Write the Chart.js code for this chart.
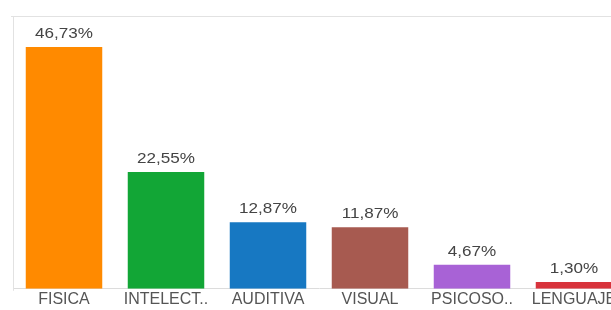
<!DOCTYPE html>
<html>
<head>
<meta charset="utf-8">
<script src="https://cdn.jsdelivr.net/npm/chart.js@4/dist/chart.umd.min.js"></script>
<style>
  html, body { margin: 0; padding: 0; background: #fff; overflow: hidden; }
  #wrap { width: 632px; height: 310px; }
</style>
</head>
<body>
<div id="wrap"><canvas id="chBar"></canvas></div>
<script>
var categories = ['FISICA', 'INTELECT..', 'AUDITIVA', 'VISUAL', 'PSICOSO..', 'LENGUAJE'];
var values = [46.73, 22.55, 12.87, 11.87, 4.67, 1.30];
var colors = ['#ff8a00', '#12a636', '#1778c2', '#a75a50', '#a862d6', '#d8333c'];

// value labels above each bar, comma decimals (text a bit wide, like the source)
var barLabels = {
  id: 'barLabels',
  afterDatasetsDraw: function (chart) {
    var ctx = chart.ctx;
    var meta = chart.getDatasetMeta(0);
    meta.data.forEach(function (bar, i) {
      ctx.save();
      ctx.translate(bar.x, bar.y - 9);
      ctx.scale(1.22, 1);
      ctx.font = '14px "Liberation Sans", Arial, sans-serif';
      ctx.fillStyle = '#444';
      ctx.textAlign = 'center';
      ctx.textBaseline = 'alphabetic';
      ctx.fillText(values[i].toFixed(2).replace('.', ',') + '%', 0, 0);
      ctx.restore();
    });
  }
};

// light frame lines: top and left
var frame = {
  id: 'frame',
  beforeDatasetsDraw: function (chart) {
    var a = chart.chartArea;
    var ctx = chart.ctx;
    ctx.save();
    ctx.strokeStyle = '#e2e2e2';
    ctx.lineWidth = 1;
    ctx.beginPath();
    ctx.moveTo(a.left - 2, a.top + 0.5);
    ctx.lineTo(a.right, a.top + 0.5);
    ctx.moveTo(a.left + 0.5, a.top);
    ctx.lineTo(a.left + 0.5, a.bottom + 2);
    ctx.stroke();
    ctx.restore();
  }
};

new Chart(document.getElementById('chBar'), {
  type: 'bar',
  data: {
    labels: categories,
    datasets: [{
      data: values,
      backgroundColor: colors,
      borderWidth: 0,
      categoryPercentage: 1,
      barPercentage: 0.75
    }]
  },
  options: {
    responsive: true,
    maintainAspectRatio: false,
    animation: false,
    layout: { padding: { left: 13, top: 16, right: 7, bottom: 0 } },
    plugins: {
      legend: { display: false },
      tooltip: { enabled: false }
    },
    scales: {
      y: { display: false, min: 0, max: 52.7 },
      x: {
        grid: { display: false, drawTicks: false },
        border: { display: true, color: '#dcdcdc' },
        ticks: {
          color: '#555',
          padding: 1,
          autoSkip: false,
          maxRotation: 0,
          font: { size: 16, family: '"Liberation Sans", Arial, sans-serif' }
        }
      }
    }
  },
  plugins: [frame, barLabels]
});
</script>
</body>
</html>
